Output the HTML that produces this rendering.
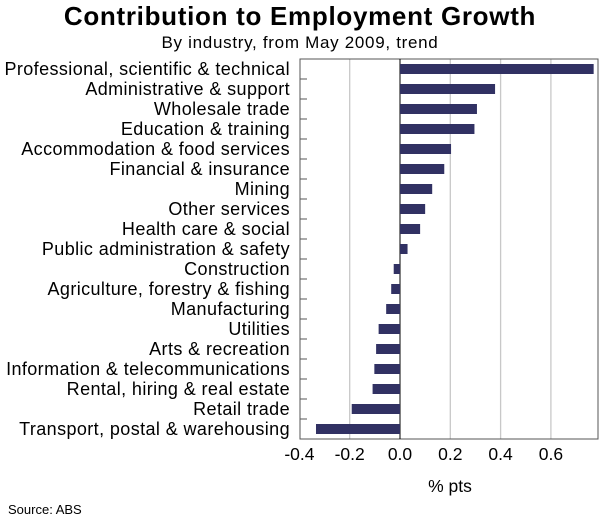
<!DOCTYPE html>
<html><head><meta charset="utf-8"><style>
body{margin:0;background:#fff;}
svg text{font-family:"Liberation Sans",Arial,sans-serif;fill:#000;}
</style></head><body>
<svg id="chart" width="600" height="519">
<text x="300" y="25" text-anchor="middle" font-size="26" letter-spacing="0.7" font-weight="bold">Contribution to Employment Growth</text>
<text x="300" y="48" text-anchor="middle" font-size="17" letter-spacing="0.7">By industry, from May 2009, trend</text>
<g id="grid"></g><g id="bars"></g><g id="labels"></g><g id="xticks"></g>
<text x="450" y="492" text-anchor="middle" font-size="17.5">% pts</text>
<text x="8" y="514" font-size="13">Source: ABS</text>
</svg>
<script>
const categories=["Professional, scientific & technical","Administrative & support","Wholesale trade","Education & training","Accommodation & food services","Financial & insurance","Mining","Other services","Health care & social","Public administration & safety","Construction","Agriculture, forestry & fishing","Manufacturing","Utilities","Arts & recreation","Information & telecommunications","Rental, hiring & real estate","Retail trade","Transport, postal & warehousing"];
const values=[0.77,0.378,0.306,0.296,0.203,0.176,0.128,0.10,0.08,0.03,-0.025,-0.035,-0.055,-0.085,-0.095,-0.102,-0.109,-0.192,-0.334];
const tickValues=[-0.4,-0.2,0,0.2,0.4,0.6];
const tickLabels=["-0.4","-0.2","0.0","0.2","0.4","0.6"];
const NS="http://www.w3.org/2000/svg";
const L=300,R=598,T=59,B=439,zero=400,k=251.5;
const x=v=>zero+v*k;
const band=(B-T)/categories.length;
const y=i=>T+band*i+band/2;
function mk(tag,attrs,parent,txt){const e=document.createElementNS(NS,tag);for(const a in attrs)e.setAttribute(a,attrs[a]);if(txt!=null)e.textContent=txt;document.getElementById(parent).appendChild(e);return e;}
tickValues.forEach((t,i)=>{
  if(t!==0&&x(t)>L+1){const g=mk('line',{x1:x(t),x2:x(t),y1:T,y2:B,stroke:'#c8c8c8','stroke-width':1.3},'grid');
  
  }
  const tl=mk('text',{x:x(t),y:460,'text-anchor':'middle','font-size':17.5},'xticks',tickLabels[i]);
  
  
});
const frame=mk('rect',{x:L,y:T,width:R-L,height:B-T,fill:'none',stroke:'#555','stroke-width':1},'grid');


const z=mk('line',{x1:zero,x2:zero,y1:T,y2:B,stroke:'#000','stroke-width':1},'grid');


for(let i=1;i<categories.length;i++){const tk=mk('line',{x1:L,x2:L+7,y1:T+band*i,y2:T+band*i,stroke:'#555','stroke-width':1},'grid');

}
categories.forEach((c,i)=>{
  const v=values[i];
  const b=mk('rect',{x:Math.min(x(v),zero),y:y(i)-5,width:Math.abs(x(v)-zero),height:10,fill:'#313163'},'bars');
  
  
  const t=mk('text',{x:290,y:y(i)+6,'text-anchor':'end','font-size':18,'letter-spacing':0.4},'labels',c);
  
  
});
</script>
</body></html>
